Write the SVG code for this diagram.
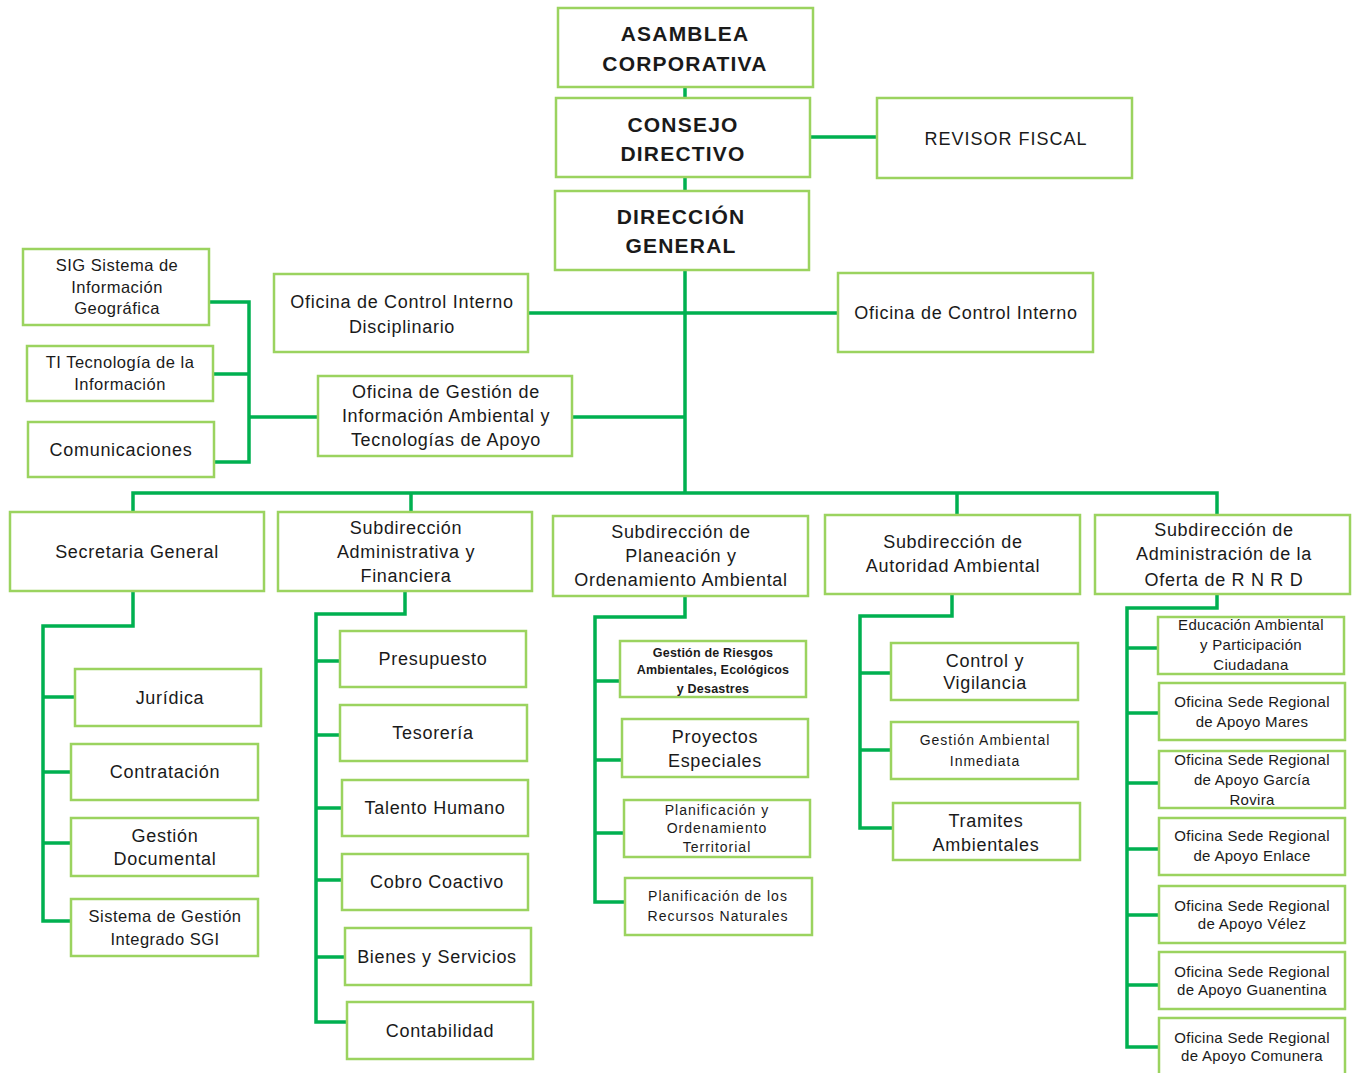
<svg xmlns="http://www.w3.org/2000/svg" width="1353" height="1073" viewBox="0 0 1353 1073">
<style>
rect.n{fill:#fff;stroke:#9bd35f;stroke-width:2.5}
.c{fill:none;stroke:#00b050;stroke-width:3.5;stroke-linejoin:miter}
text{font-family:"Liberation Sans",Arial,sans-serif;fill:#1a1a1a;text-anchor:middle}
.b{font-size:21px;font-weight:bold;letter-spacing:1.2px}
.r{font-size:18px;letter-spacing:0.7px}
.m{font-size:16.5px;letter-spacing:0.5px}
.s{font-size:15px;letter-spacing:0.3px}
.xs{font-size:12.5px;font-weight:bold;letter-spacing:0.2px}
.k{font-size:14px;letter-spacing:1px}
</style>
<rect width="1353" height="1073" fill="#fff"/>
<g id="connectors">
<path class="c" d="M685 87V98M685 177V191M685 270V493M810 137H877M528 313H838M572 417H685"/>
<path class="c" d="M209 302H249V462H214M213 374H249M249 417H318"/>
<path class="c" d="M133 512V493H1217V515M411 493V512M957 493V515"/>
<path class="c" d="M133 591V626H43V921H71M43 697H75M43 772H71M43 843H71"/>
<path class="c" d="M405 591V614H316V1022H347M316 661H340M316 735H340M316 808H342M316 880H342M316 957H345"/>
<path class="c" d="M685 596V617H595V902H625M595 681H620M595 760H622M595 833H624"/>
<path class="c" d="M952 594V616H860V828H893M860 673H891M860 750H891"/>
<path class="c" d="M1217 594V608H1127V1047H1159M1127 648H1158M1127 713H1159M1127 783H1159M1127 849H1159M1127 915H1159M1127 985H1159"/>
</g>
<g id="asamblea"><rect class="n" x="558" y="8" width="255" height="79"/><text class="b" x="685" y="41">ASAMBLEA</text><text class="b" x="685" y="71">CORPORATIVA</text></g>
<g id="consejo"><rect class="n" x="556" y="98" width="254" height="79"/><text class="b" x="683" y="132">CONSEJO</text><text class="b" x="683" y="161">DIRECTIVO</text></g>
<g id="revisor"><rect class="n" x="877" y="98" width="255" height="80"/><text class="r" x="1006" y="145" style="letter-spacing:1px">REVISOR FISCAL</text></g>
<g id="direccion"><rect class="n" x="555" y="191" width="254" height="79"/><text class="b" x="681" y="224">DIRECCIÓN</text><text class="b" x="681" y="253">GENERAL</text></g>
<g id="ocid"><rect class="n" x="274" y="274" width="254" height="78"/><text class="r" x="402" y="308">Oficina de Control Interno</text><text class="r" x="402" y="333">Disciplinario</text></g>
<g id="oci"><rect class="n" x="838" y="273" width="255" height="79"/><text class="r" x="966" y="319">Oficina de Control Interno</text></g>
<g id="ogia"><rect class="n" x="318" y="376" width="254" height="80"/><text class="r" x="446" y="398">Oficina de Gestión de</text><text class="r" x="446" y="422">Información Ambiental y</text><text class="r" x="446" y="446">Tecnologías de Apoyo</text></g>
<g id="sig"><rect class="n" x="23" y="249" width="186" height="76"/><text class="m" x="117" y="271">SIG  Sistema de</text><text class="m" x="117" y="293">Información</text><text class="m" x="117" y="314">Geográfica</text></g>
<g id="ti"><rect class="n" x="27" y="346" width="186" height="55"/><text class="m" x="120" y="368">TI Tecnología de la</text><text class="m" x="120" y="390">Información</text></g>
<g id="comunicaciones"><rect class="n" x="28" y="422" width="186" height="55"/><text class="r" x="121" y="456">Comunicaciones</text></g>
<g id="secretaria"><rect class="n" x="10" y="512" width="254" height="79"/><text class="r" x="137" y="558">Secretaria General</text></g>
<g id="sub-admin"><rect class="n" x="278" y="512" width="254" height="79"/><text class="r" x="406" y="534">Subdirección</text><text class="r" x="406" y="558">Administrativa y</text><text class="r" x="406" y="582">Financiera</text></g>
<g id="sub-planeacion"><rect class="n" x="553" y="516" width="255" height="80"/><text class="r" x="681" y="538">Subdirección de</text><text class="r" x="681" y="562">Planeación y</text><text class="r" x="681" y="586">Ordenamiento Ambiental</text></g>
<g id="sub-autoridad"><rect class="n" x="825" y="515" width="255" height="79"/><text class="r" x="953" y="548">Subdirección de</text><text class="r" x="953" y="572">Autoridad Ambiental</text></g>
<g id="sub-oferta"><rect class="n" x="1095" y="515" width="255" height="79"/><text class="r" x="1224" y="536">Subdirección de</text><text class="r" x="1224" y="560">Administración de la</text><text class="r" x="1224" y="586">Oferta de R N R D</text></g>
<g id="juridica"><rect class="n" x="75" y="669" width="186" height="57"/><text class="r" x="170" y="704">Jurídica</text></g>
<g id="contratacion"><rect class="n" x="71" y="744" width="187" height="56"/><text class="r" x="165" y="778">Contratación</text></g>
<g id="gestion-doc"><rect class="n" x="71" y="818" width="187" height="58"/><text class="r" x="165" y="842">Gestión</text><text class="r" x="165" y="865">Documental</text></g>
<g id="sgi"><rect class="n" x="71" y="899" width="187" height="57"/><text class="m" x="165" y="922">Sistema de Gestión</text><text class="m" x="165" y="945">Integrado SGI</text></g>
<g id="presupuesto"><rect class="n" x="340" y="631" width="186" height="56"/><text class="r" x="433" y="665">Presupuesto</text></g>
<g id="tesoreria"><rect class="n" x="340" y="705" width="187" height="56"/><text class="r" x="433" y="739">Tesorería</text></g>
<g id="talento"><rect class="n" x="342" y="780" width="186" height="56"/><text class="r" x="435" y="814">Talento Humano</text></g>
<g id="cobro"><rect class="n" x="342" y="854" width="186" height="56"/><text class="r" x="437" y="888">Cobro Coactivo</text></g>
<g id="bienes"><rect class="n" x="345" y="928" width="186" height="57"/><text class="r" x="437" y="963">Bienes y Servicios</text></g>
<g id="contabilidad"><rect class="n" x="347" y="1002" width="186" height="57"/><text class="r" x="440" y="1037">Contabilidad</text></g>
<g id="riesgos"><rect class="n" x="620" y="641" width="186" height="56"/><text class="xs" x="713" y="657">Gestión de Riesgos</text><text class="xs" x="713" y="674">Ambientales, Ecológicos</text><text class="xs" x="713" y="693">y Desastres</text></g>
<g id="proyectos"><rect class="n" x="622" y="719" width="186" height="58"/><text class="r" x="715" y="743">Proyectos</text><text class="r" x="715" y="767">Especiales</text></g>
<g id="pot"><rect class="n" x="624" y="800" width="186" height="57"/><text class="k" x="717" y="815">Planificación y</text><text class="k" x="717" y="833">Ordenamiento</text><text class="k" x="717" y="852">Territorial</text></g>
<g id="recursos"><rect class="n" x="625" y="878" width="187" height="57"/><text class="k" x="718" y="901">Planificación de los</text><text class="k" x="718" y="921">Recursos Naturales</text></g>
<g id="control"><rect class="n" x="891" y="643" width="187" height="57"/><text class="r" x="985" y="667">Control y</text><text class="r" x="985" y="689">Vigilancia</text></g>
<g id="gai"><rect class="n" x="891" y="722" width="187" height="57"/><text class="k" x="985" y="745">Gestión Ambiental</text><text class="k" x="985" y="766">Inmediata</text></g>
<g id="tramites"><rect class="n" x="893" y="803" width="187" height="57"/><text class="r" x="986" y="827">Tramites</text><text class="r" x="986" y="851">Ambientales</text></g>
<g id="educacion"><rect class="n" x="1158" y="617" width="186" height="57"/><text class="s" x="1251" y="630">Educación Ambiental</text><text class="s" x="1251" y="650">y Participación</text><text class="s" x="1251" y="670">Ciudadana</text></g>
<g id="mares"><rect class="n" x="1159" y="683" width="186" height="57"/><text class="s" x="1252" y="707">Oficina Sede Regional</text><text class="s" x="1252" y="727">de Apoyo Mares</text></g>
<g id="garcia"><rect class="n" x="1159" y="751" width="186" height="57"/><text class="s" x="1252" y="765">Oficina Sede Regional</text><text class="s" x="1252" y="785">de Apoyo García</text><text class="s" x="1252" y="805">Rovira</text></g>
<g id="enlace"><rect class="n" x="1159" y="818" width="186" height="57"/><text class="s" x="1252" y="841">Oficina Sede Regional</text><text class="s" x="1252" y="861">de Apoyo Enlace</text></g>
<g id="velez"><rect class="n" x="1159" y="886" width="186" height="57"/><text class="s" x="1252" y="911">Oficina Sede Regional</text><text class="s" x="1252" y="929">de Apoyo Vélez</text></g>
<g id="guanentina"><rect class="n" x="1159" y="952" width="186" height="57"/><text class="s" x="1252" y="977">Oficina Sede Regional</text><text class="s" x="1252" y="995">de Apoyo Guanentina</text></g>
<g id="comunera"><rect class="n" x="1159" y="1018" width="186" height="57"/><text class="s" x="1252" y="1043">Oficina Sede Regional</text><text class="s" x="1252" y="1061">de Apoyo Comunera</text></g>
</svg>
